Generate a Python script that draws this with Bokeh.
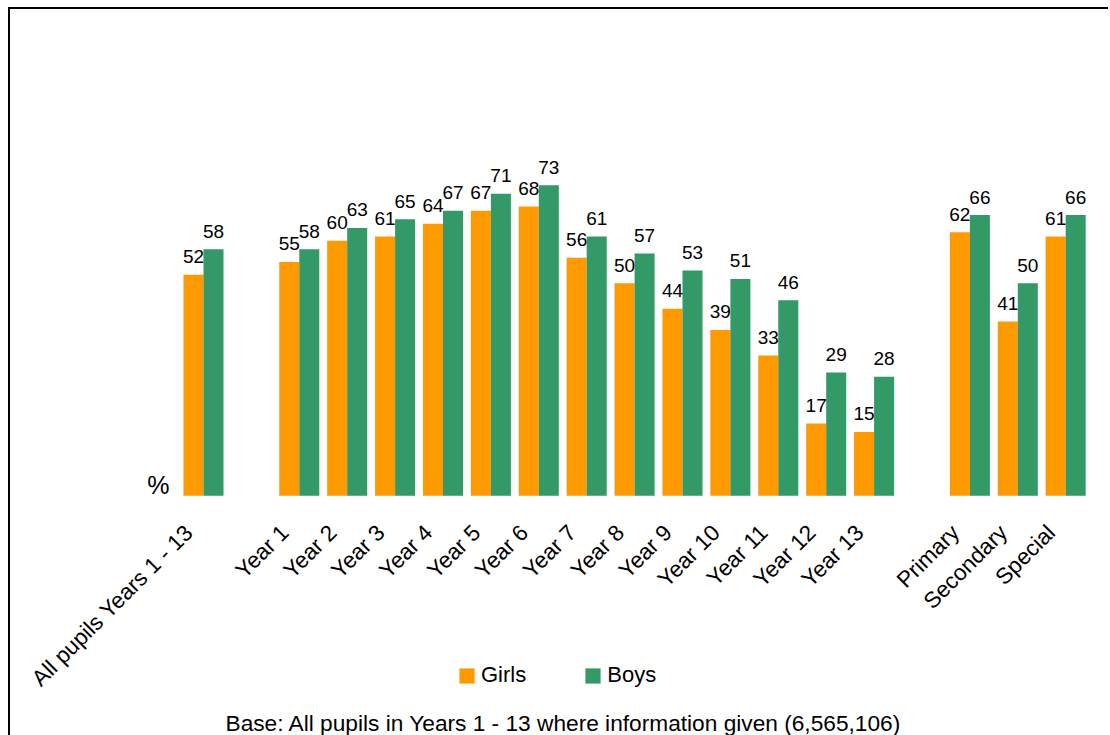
from bokeh.plotting import figure
from bokeh.models import ColumnDataSource, FixedTicker, Legend, LegendItem, Label
from bokeh.embed import file_html
from bokeh.resources import INLINE
from bokeh.core.properties import value
import math

categories = ["All pupils Years 1 - 13", "Year 1", "Year 2", "Year 3", "Year 4", "Year 5",
              "Year 6", "Year 7", "Year 8", "Year 9", "Year 10", "Year 11", "Year 12",
              "Year 13", "Primary", "Secondary", "Special"]
girls = [52, 55, 60, 61, 64, 67, 68, 56, 50, 44, 39, 33, 17, 15, 62, 41, 61]
boys = [58, 58, 63, 65, 67, 71, 73, 61, 57, 53, 51, 46, 29, 28, 66, 50, 66]
series_names = ["Girls", "Boys"]
note = "Base: All pupils in Years 1 - 13 where information given (6,565,106)"

# slot positions (gaps between groups)
pos = [0] + list(range(2, 15)) + [16, 17, 18]

GIRL_COL = "#FF9900"
BOY_COL = "#339966"
FONT = "Liberation Sans"
BW = 0.418

p = figure(width=1100, height=728, output_backend="svg", toolbar_location=None,
           x_range=(-4.029, 18.727), y_range=(-56.84, 102.36),
           min_border_left=0, min_border_right=10, min_border_top=51, min_border_bottom=0)
p.styles = {"border-top": "2px solid black", "border-left": "2px solid black",
            "margin-left": "8px", "margin-top": "7px"}
p.outline_line_color = None
p.xgrid.visible = False
p.ygrid.visible = False
p.yaxis.visible = False

gx = [x - BW / 2 for x in pos]
bx = [x + BW / 2 for x in pos]
src = ColumnDataSource(dict(gx=gx, bx=bx, g=girls, b=boys,
                            gl=[str(v) for v in girls], bl=[str(v) for v in boys]))
rg = p.vbar(x="gx", top="g", width=BW, source=src, fill_color=GIRL_COL, line_color=None)
rb = p.vbar(x="bx", top="b", width=BW, source=src, fill_color=BOY_COL, line_color=None)

for xcol, ycol, lcol in [("gx", "g", "gl"), ("bx", "b", "bl")]:
    p.text(x=xcol, y=ycol, text=lcol, source=src, text_align="center",
           text_baseline="alphabetic", y_offset=-18, text_font=value(FONT),
           text_font_size="19px", text_color="#000000")

ax = p.xaxis[0]
ax.fixed_location = 0
tick_shift = -0.3
ticks = [x + tick_shift for x in pos]
ax.ticker = FixedTicker(ticks=ticks)
ax.major_label_overrides = {t: c for t, c in zip(ticks, categories)}
ax.major_label_orientation = math.pi / 4
ax.axis_line_color = None
ax.major_tick_line_color = None
ax.minor_tick_line_color = None
ax.major_tick_out = 0
ax.major_tick_in = 0
ax.major_label_standoff = 33
ax.major_label_text_font = FONT
ax.major_label_text_font_size = "22.5px"
ax.major_label_text_color = "#000000"

legend = Legend(items=[LegendItem(label=series_names[0], renderers=[rg]),
                       LegendItem(label=series_names[1], renderers=[rb])],
                orientation="horizontal", location=(447, 49),
                glyph_width=19, glyph_height=19, label_standoff=5, spacing=57,
                padding=0, margin=0, border_line_color=None, background_fill_alpha=0,
                label_text_font=FONT, label_text_font_size="22px", label_text_color="#000000")
p.add_layout(legend, "center")

p.add_layout(Label(x=-0.94, y=2.6, text="%", text_align="center", text_baseline="alphabetic",
                   text_font=FONT, text_font_size="25px", text_color="#000000"))
p.add_layout(Label(x=7.52, y=-53.4, text=note, text_align="center", text_baseline="alphabetic",
                   text_font=FONT, text_font_size="22.7px", text_color="#000000"))

open("out.html", "w").write(file_html(p, INLINE))
